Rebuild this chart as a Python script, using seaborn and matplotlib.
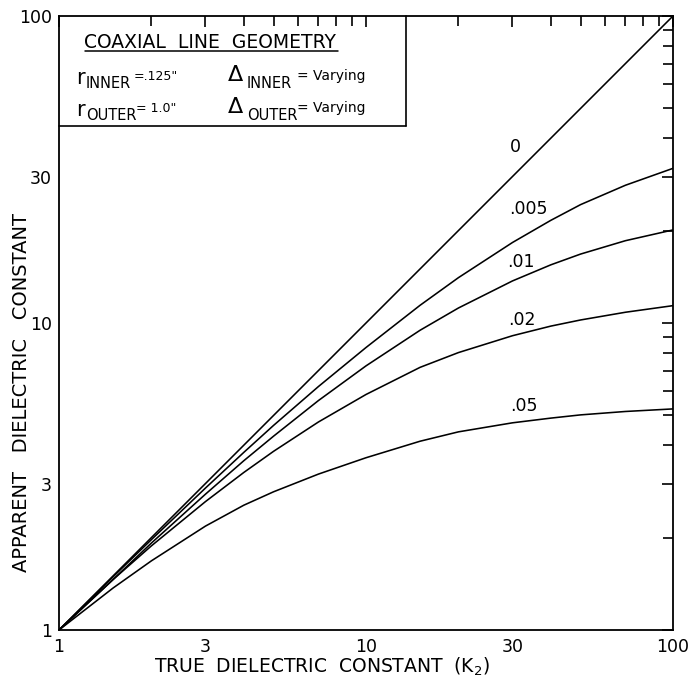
import numpy as np
import pandas as pd
import matplotlib
matplotlib.use("Agg")
import matplotlib.pyplot as plt
import seaborn as sns

# True dielectric constant K2 (x) and apparent dielectric constant for each gap size
true_k = [1, 1.5, 2, 3, 4, 5, 7, 10, 15, 20, 30, 40, 50, 70, 100]
gap_0 = [1, 1.5, 2, 3, 4, 5, 7, 10, 15, 20, 30, 40, 50, 70, 100]
gap_005 = [1, 1.49, 1.97, 2.90, 3.79, 4.64, 6.21, 8.32, 11.42, 14.05, 18.29, 21.6, 24.3, 28.1, 31.9]
gap_01 = [1, 1.46, 1.92, 2.77, 3.56, 4.28, 5.59, 7.25, 9.47, 11.19, 13.71, 15.47, 16.77, 18.54, 20.1]
gap_02 = [1, 1.46, 1.88, 2.62, 3.26, 3.82, 4.76, 5.85, 7.17, 8.01, 9.09, 9.77, 10.23, 10.84, 11.39]
gap_05 = [1, 1.37, 1.68, 2.18, 2.55, 2.82, 3.22, 3.64, 4.12, 4.42, 4.73, 4.9, 5.02, 5.15, 5.25]

gap_labels = ["0", ".005", ".01", ".02", ".05"]
series = [gap_0, gap_005, gap_01, gap_02, gap_05]
# curve label anchor positions (data coordinates)
label_x = [30.7, 33.8, 31.9, 32.2, 32.6]
label_y = [37.5, 23.5, 15.8, 10.2, 5.35]

x_ticks = [1, 3, 10, 30, 100]
y_ticks = [1, 3, 10, 30, 100]

df = pd.concat(
    [pd.DataFrame({"k2": true_k, "kapp": vals, "gap": lab})
     for lab, vals in zip(gap_labels, series)],
    ignore_index=True,
)

sns.set_style("white")
plt.rcParams["font.family"] = ["DejaVu Sans"]
plt.rcParams["text.color"] = "black"
plt.rcParams["axes.labelcolor"] = "black"
plt.rcParams["xtick.color"] = "black"
plt.rcParams["ytick.color"] = "black"

W, H = 690, 684
fig = plt.figure(figsize=(W / 100, H / 100), dpi=100)
L, R, T, B = 59, 673, 16, 630
ax = fig.add_axes([L / W, 1 - B / H, (R - L) / W, (B - T) / H])

sns.lineplot(data=df, x="k2", y="kapp", hue="gap", hue_order=gap_labels,
             palette=["black"] * 5, linewidth=1.15, legend=False, ax=ax,
             estimator=None, sort=True)

ax.set_xscale("log")
ax.set_yscale("log")
ax.set_xlim(1, 100)
ax.set_ylim(1, 100)

minor = [v * d for d in (1, 10) for v in range(2, 10)]
for axis, ticks in ((ax.xaxis, x_ticks), (ax.yaxis, y_ticks)):
    axis.set_major_locator(matplotlib.ticker.FixedLocator(ticks))
    axis.set_major_formatter(matplotlib.ticker.FixedFormatter([str(t) for t in ticks]))
    axis.set_minor_locator(matplotlib.ticker.FixedLocator([m for m in minor if m not in ticks]))
    axis.set_minor_formatter(matplotlib.ticker.NullFormatter())

ax.tick_params(which="both", direction="in", top=True, right=True,
               width=1.2, color="black", labelsize=12.5, labelcolor="black")
ax.tick_params(which="major", length=8)
ax.tick_params(which="minor", length=7)
ax.tick_params(axis="x", pad=6)
ax.tick_params(axis="y", pad=5)

for s in ax.spines.values():
    s.set_color("black")
    s.set_linewidth(1.3)

ax.set_xlabel("")
ax.set_ylabel("")
fig.text(322 / W, 1 - 667 / H, "TRUE  DIELECTRIC  CONSTANT  (K$_2$)",
         fontsize=13.5, ha="center", va="center")
fig.text(22 / W, 1 - 392 / H, "APPARENT   DIELECTRIC   CONSTANT",
         fontsize=14, ha="center", va="center", rotation=90)

for lab, lx, ly in zip(gap_labels, label_x, label_y):
    ax.text(lx, ly, lab, fontsize=12.5, ha="center", va="center")


def ftext(px, py, s, **kw):
    fig.text(px / W, 1 - py / H, s, va="center", ha="left", **kw)


def fline(x0, y0, x1, y1, lw=1.2):
    fig.add_artist(plt.Line2D([x0 / W, x1 / W], [1 - y0 / H, 1 - y1 / H],
                              color="black", lw=lw))


# geometry box in the upper-left corner
fline(406, T, 406, 126)
fline(L, 126, 406, 126)

ftext(84, 42, "COAXIAL  LINE  GEOMETRY", fontsize=13.5)
fline(85, 51, 338, 51, lw=1.1)

ftext(76, 78, "r", fontsize=15)
ftext(86, 83, "INNER", fontsize=10.5)
ftext(134, 76, "=.125\"", fontsize=9)
ftext(228, 75, "\u0394", fontsize=16)
ftext(247, 83, "INNER", fontsize=10.5)
ftext(297, 76, "= Varying", fontsize=10)

ftext(76, 110, "r", fontsize=15)
ftext(86, 115, "OUTER", fontsize=10.5)
ftext(136, 108, "= 1.0\"", fontsize=9)
ftext(228, 107, "\u0394", fontsize=16)
ftext(247, 115, "OUTER", fontsize=10.5)
ftext(297, 108, "= Varying", fontsize=10)

fig.savefig("out.png", dpi=100)
